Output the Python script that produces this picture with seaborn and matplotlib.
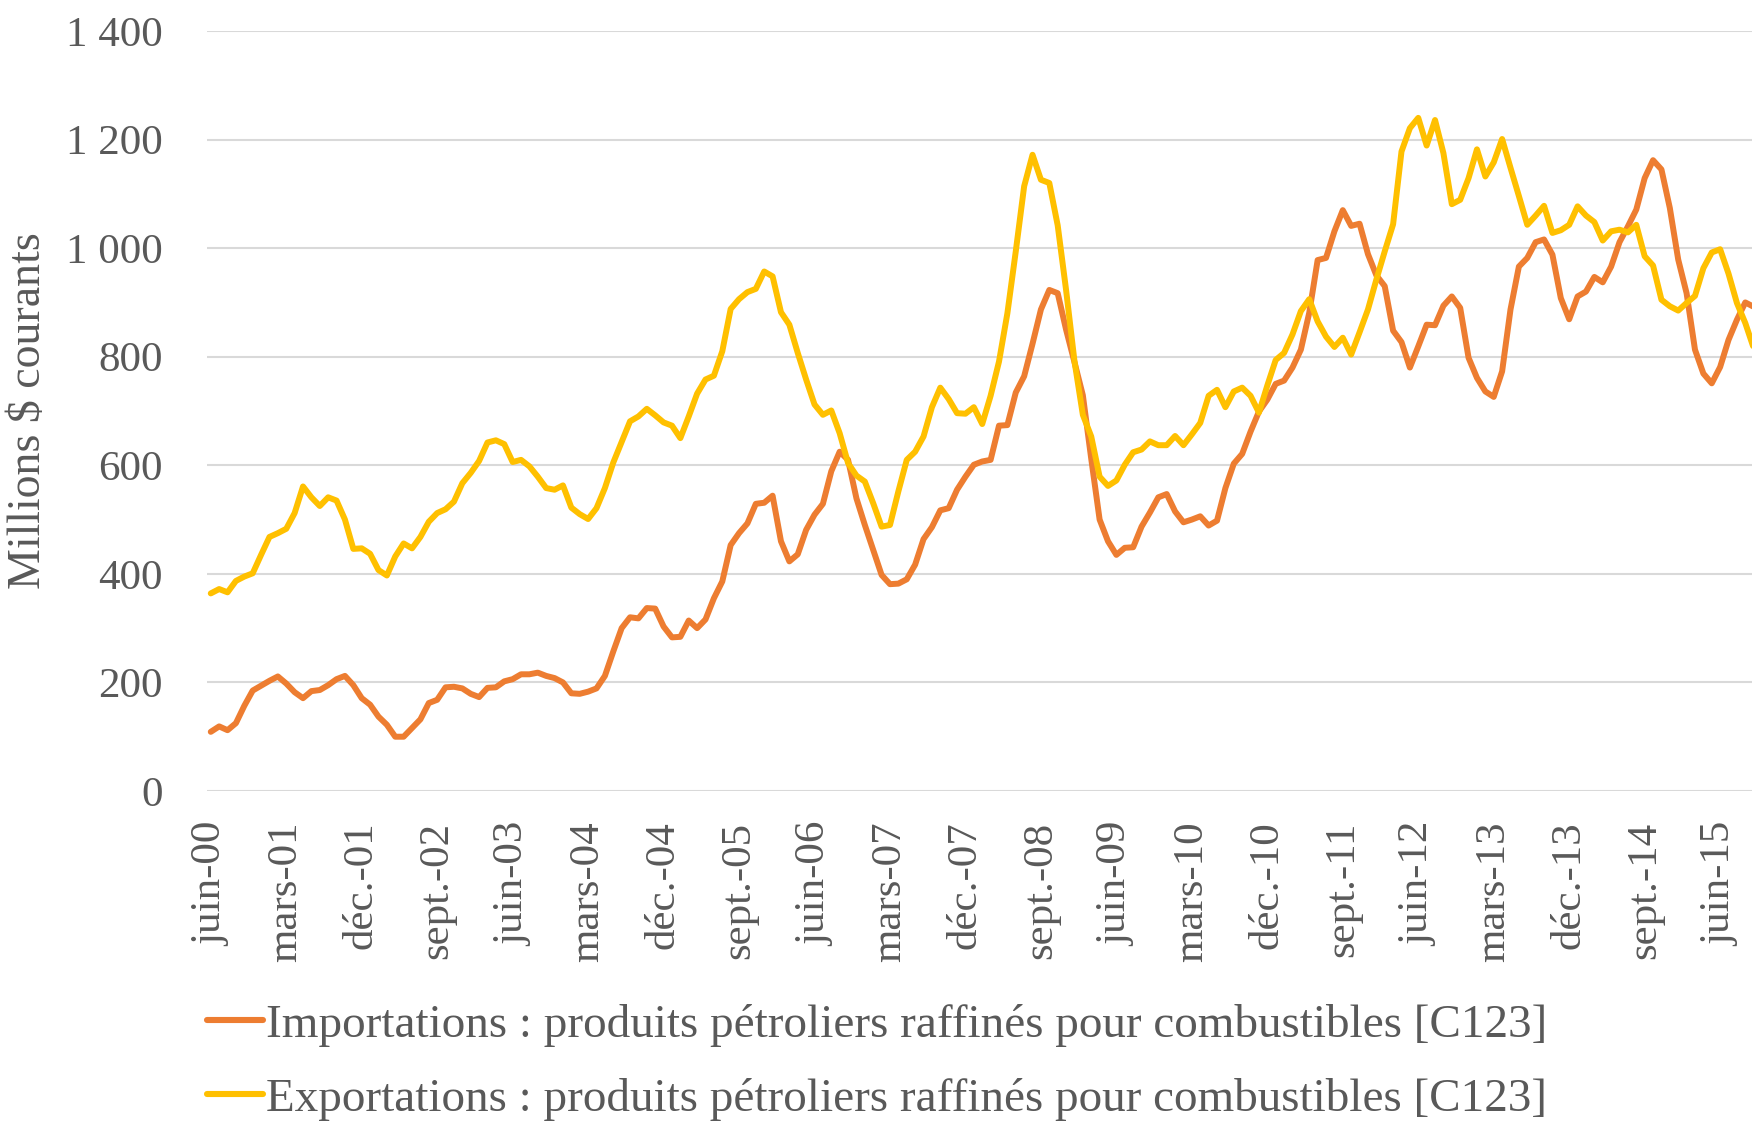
import pandas as pd
import numpy as np
import matplotlib.pyplot as plt
from matplotlib.lines import Line2D
import seaborn as sns

# Monthly values, June 2000 onward (millions of current $)
importations = [
    109, 119, 112, 125, 157, 185, 194, 203, 211, 198, 182, 171, 184, 186, 195, 206,
    212, 195, 171, 159, 137, 122, 100, 100, 116, 132, 162, 168, 191, 192, 189, 179,
    173, 190, 191, 202, 206, 215, 215, 218, 212, 208, 200, 180, 179, 183, 189, 212,
    257, 300, 320, 318, 337, 336, 303, 283, 284, 314, 300, 316, 355, 386, 453, 475,
    493, 529, 531, 544, 460, 423, 436, 481, 509, 529, 589, 625, 610, 539, 490, 444,
    398, 381, 382, 390, 417, 464, 486, 517, 521, 555, 579, 601, 607, 610, 673, 674,
    734, 764, 824, 887, 923, 917, 850, 790, 729, 612, 500, 460, 435, 448, 449, 487,
    513, 541, 547, 515, 495, 500, 506, 489, 498, 558, 603, 621, 662, 699, 721, 750,
    756, 780, 813, 881, 978, 982, 1031, 1070, 1041, 1045, 989, 950, 930, 848, 827, 780,
    819, 859, 858, 894, 911, 890, 798, 761, 736, 726, 773, 887, 966, 982, 1011, 1016,
    988, 908, 869, 911, 920, 947, 937, 966, 1011, 1040, 1071, 1129, 1162, 1145, 1074, 979,
    917, 813, 769, 751, 781, 831, 868, 900, 892,
]
exportations = [
    364, 372, 366, 387, 395, 401, 435, 468, 475, 483, 512, 561, 541, 525, 541, 535,
    500, 446, 447, 437, 407, 397, 432, 456, 447, 468, 496, 512, 519, 533, 567, 586,
    608, 642, 646, 639, 606, 610, 598, 579, 558, 555, 563, 522, 510, 501, 521, 558,
    605, 643, 681, 690, 704, 692, 679, 673, 650, 690, 732, 758, 765, 810, 888, 906,
    919, 925, 957, 948, 882, 859, 807, 758, 712, 693, 701, 659, 604, 581, 570, 530,
    487, 490, 552, 610, 625, 653, 707, 743, 722, 696, 695, 707, 676, 728, 791, 880,
    994, 1114, 1172, 1126, 1120, 1042, 923, 792, 693, 653, 579, 562, 572, 601, 624, 629,
    644, 637, 637, 654, 637, 657, 678, 728, 739, 707, 736, 743, 728, 697, 747, 794,
    807, 841, 884, 906, 865, 837, 818, 835, 804, 845, 887, 942, 994, 1044, 1178, 1221,
    1240, 1189, 1236, 1175, 1081, 1089, 1129, 1182, 1132, 1158, 1201, 1148, 1096, 1043, 1060, 1078,
    1028, 1033, 1043, 1077, 1060, 1048, 1014, 1031, 1034, 1029, 1043, 985, 968, 905, 893, 885,
    899, 912, 963, 992, 998, 953, 899, 862, 816,
]
tick_labels = ["juin-00", "mars-01", "déc.-01", "sept.-02", "juin-03", "mars-04",
               "déc.-04", "sept.-05", "juin-06", "mars-07", "déc.-07", "sept.-08",
               "juin-09", "mars-10", "déc.-10", "sept.-11", "juin-12", "mars-13",
               "déc.-13", "sept.-14", "juin-15"]
y_ticks = [0, 200, 400, 600, 800, 1000, 1200, 1400]
y_labels = ["0", "200", "400", "600", "800", "1 000", "1 200", "1 400"]

lbl_imp = "Importations : produits pétroliers raffinés pour combustibles [C123]"
lbl_exp = "Exportations : produits pétroliers raffinés pour combustibles [C123]"

n = len(importations)
df = pd.DataFrame({
    "mois": list(range(n)) * 2,
    "valeur": importations + exportations,
    "serie": [lbl_imp] * n + [lbl_exp] * n,
})

sns.set_style("white")
plt.rcParams['font.family'] = ['Liberation Serif', 'DejaVu Serif']
grey = "#595959"
colors = {lbl_imp: "#ED7D31", lbl_exp: "#FFC000"}

fig = plt.figure(figsize=(17.52, 11.24), dpi=100)
ax = fig.add_axes([207 / 1752, 1 - 791 / 1124, 1 - 207 / 1752, (791 - 31) / 1124])

sns.lineplot(data=df, x="mois", y="valeur", hue="serie", palette=colors,
             linewidth=4.3, ax=ax, legend=False, sort=False)

ax.set_xlim(-0.45, 183.8)
ax.set_ylim(0, 1400)
ax.set_xticks(range(0, 9 * len(tick_labels), 9))
ax.set_xticklabels(tick_labels, rotation=90, fontsize=31, color=grey)
ax.set_yticks(y_ticks)
ax.set_yticklabels(y_labels, fontsize=31, color=grey)
ax.tick_params(axis="both", length=0)
ax.tick_params(axis="y", pad=32)
ax.tick_params(axis="x", pad=22)
ax.grid(axis="y", color="#D9D9D9", linewidth=1.5)
ax.set_axisbelow(True)
for s in ax.spines.values():
    s.set_visible(False)
ax.set_xlabel("")
ax.set_ylabel("Millions $ courants", fontsize=33, color=grey)
ax.yaxis.set_label_coords(-0.1016, 0.5)

handles = [Line2D([0], [0], color=colors[lbl_imp], lw=4.4),
           Line2D([0], [0], color=colors[lbl_exp], lw=4.4)]
fig.legend(handles, [lbl_imp, lbl_exp], loc="upper left",
           bbox_to_anchor=(188 / 1752, 1 - 985 / 1124), frameon=False,
           fontsize=33.9, labelcolor=grey, handlelength=1.2, handletextpad=0.06,
           labelspacing=0.66, borderaxespad=0)

fig.savefig("out.png", dpi=100)
